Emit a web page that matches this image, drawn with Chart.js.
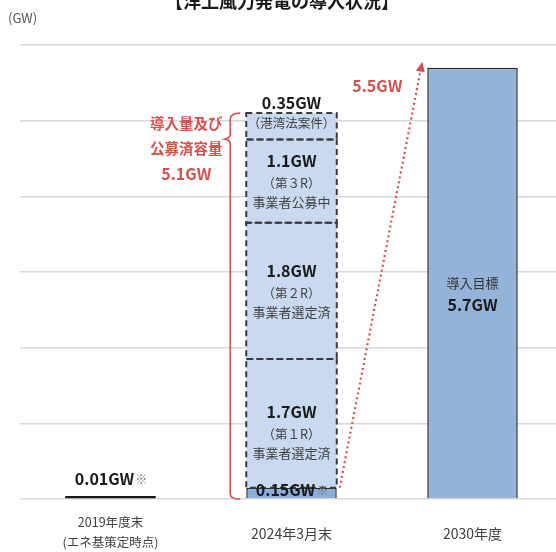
<!DOCTYPE html>
<html lang="ja">
<head>
<meta charset="utf-8">
<title>洋上風力発電の導入状況</title>
<script src="https://cdn.jsdelivr.net/npm/chart.js@4.4.1/dist/chart.umd.min.js"></script>
<style>
  html, body { margin: 0; padding: 0; background: #fff; overflow: hidden; }
  #wind { display: block; }
</style>
</head>
<body>
<canvas id="wind" width="563" height="552"></canvas>
<script>
// 年度区分
const periods = ['2019年度末', '2024年3月末', '2030年度'];
const periodNotes = ['(エネ基策定時点)', '', ''];

// 導入済み容量 (GW)
const installed = [0.01, 0.15, null];
// 公募ラウンド別の容量 (GW)
const round1 = [null, 1.7, null];
const round2 = [null, 1.8, null];
const round3 = [null, 1.1, null];
const portLaw = [null, 0.35, null];
// 2030年度の導入目標 (GW)
const target = [null, null, 5.7];

const roundTags = ['（第１R）', '（第２R）', '（第３R）', '（港湾法案件）'];
const roundStatus = ['事業者選定済', '事業者選定済', '事業者公募中', ''];

const yTicks = [0, 1, 2, 3, 4, 5, 6];
const gapToTarget = 5.5;

const FONT = "'Noto Sans CJK JP', 'Noto Sans', sans-serif";
const RED = '#d4524e';
const INK = '#1a1a1a';
const GREY = '#404040';

function put(ctx, str, x, y, size, color, weight = 'normal', align = 'center') {
    ctx.font = `${weight} ${size}px ${FONT}`;
    ctx.fillStyle = color;
    ctx.textAlign = align;
    ctx.textBaseline = 'middle';
    ctx.fillText(str, x, y);
}

// 「0.15GW※」のように太字の値と※印を並べて描く
function putValueMark(ctx, value, x, y) {
    const main = `${value}GW`;
    ctx.font = `bold 16px ${FONT}`;
    const w1 = ctx.measureText(main).width;
    ctx.font = `normal 12px ${FONT}`;
    const w2 = ctx.measureText('※').width;
    const left = x - (w1 + w2) / 2;
    put(ctx, main, left, y, 16, INK, 'bold', 'left');
    put(ctx, '※', left + w1 + 1, y, 12, '#777', 'normal', 'left');
}

// 公募ラウンド分の破線枠
const dashedBoxes = {
    id: 'dashedBoxes',
    afterDatasetsDraw(chart) {
        const ctx = chart.ctx;
        ctx.save();
        ctx.strokeStyle = '#3a3a3a';
        ctx.lineWidth = 2;
        ctx.setLineDash([6, 4]);
        [1, 2, 3, 4].forEach(di => {
            const bar = chart.getDatasetMeta(di).data[1];
            const l = bar.x - bar.width / 2, r = bar.x + bar.width / 2;
            ctx.strokeRect(l, bar.y, r - l, bar.base - bar.y);
        });
        ctx.restore();
    }
};

// 値ラベル・注記・矢印など
const annotations = {
    id: 'annotations',
    afterDraw(chart) {
        const ctx = chart.ctx;
        const x = chart.scales.x, y = chart.scales.y;
        ctx.save();

        put(ctx, '【洋上風力発電の導入状況】', 282, 1, 18, INK, 'bold');
        put(ctx, '(GW)', 8, 18, 13, '#555', 'normal', 'left');

        // 横軸ラベル
        periods.forEach((p, i) => {
            const cx = x.getPixelForValue(i);
            if (periodNotes[i]) {
                put(ctx, p, cx, 522, 12.5, GREY);
                put(ctx, periodNotes[i], cx, 542, 12.5, GREY);
            } else {
                put(ctx, p, cx, 534, 14, GREY);
            }
        });

        // 2019年度末
        const b0 = chart.getDatasetMeta(0).data[0];
        putValueMark(ctx, installed[0], b0.x, b0.y - 17);

        // 2024年3月末の内訳
        const base = chart.getDatasetMeta(0).data[1];
        putValueMark(ctx, installed[1], base.x, (base.y + base.base) / 2 - 3);

        const rounds = [round1, round2, round3];
        const shift = [9, 0, 0];
        rounds.forEach((arr, i) => {
            const bar = chart.getDatasetMeta(i + 1).data[1];
            const cy = (bar.y + bar.base) / 2 + shift[i];
            put(ctx, `${arr[1]}GW`, bar.x, cy - 20, 16, INK, 'bold');
            put(ctx, roundTags[i], bar.x, cy + 2, 12.5, GREY);
            put(ctx, roundStatus[i], bar.x, cy + 21, 13, GREY);
        });

        const port = chart.getDatasetMeta(4).data[1];
        put(ctx, `${portLaw[1]}GW`, port.x, port.y - 10, 16, INK, 'bold');
        put(ctx, roundTags[3], port.x, (port.y + port.base) / 2 - 3, 12.5, GREY);

        // 2030年度 導入目標
        const goal = chart.getDatasetMeta(5).data[2];
        const gy = (goal.y + goal.base) / 2;
        put(ctx, '導入目標', goal.x, gy, 13, '#333');
        put(ctx, `${target[2]}GW`, goal.x, gy + 22, 16, INK, 'bold');

        // 導入量及び公募済容量の括弧
        const total = [installed, round1, round2, round3, portLaw]
            .reduce((s, arr) => s + arr[1], 0);
        const bx = base.x - base.width / 2 - 16;
        const top = y.getPixelForValue(total);
        const bottom = y.getPixelForValue(0);
        ctx.strokeStyle = RED;
        ctx.lineWidth = 1.6;
        ctx.setLineDash([]);
        ctx.beginPath();
        ctx.moveTo(bx + 10, top);
        ctx.quadraticCurveTo(bx, top, bx, top + 6);
        ctx.lineTo(bx, top + 21);
        ctx.quadraticCurveTo(bx, top + 25, bx - 5, top + 26);
        ctx.quadraticCurveTo(bx, top + 27, bx, top + 31);
        ctx.lineTo(bx, bottom - 5);
        ctx.quadraticCurveTo(bx, bottom, bx + 10, bottom);
        ctx.stroke();

        put(ctx, '導入量及び', bx - 44, top + 10, 14.5, RED, 'bold');
        put(ctx, '公募済容量', bx - 44, top + 35, 14.5, RED, 'bold');
        put(ctx, `${total.toFixed(1)}GW`, bx - 44, top + 61, 16, RED, 'bold');

        // 目標までの点線矢印
        const x0 = base.x + base.width / 2 + 3, y0 = y.getPixelForValue(installed[1]);
        const x1 = goal.x - goal.width / 2 - 5, y1 = y.getPixelForValue(target[2]) - 6;
        const ang = Math.atan2(y1 - y0, x1 - x0);
        const hx = x1 - Math.cos(ang) * 10, hy = y1 - Math.sin(ang) * 10;
        ctx.setLineDash([2, 3]);
        ctx.lineWidth = 2.2;
        ctx.beginPath();
        ctx.moveTo(x0, y0);
        ctx.lineTo(hx, hy);
        ctx.stroke();
        ctx.setLineDash([]);
        ctx.fillStyle = RED;
        ctx.beginPath();
        ctx.moveTo(x1, y1);
        ctx.lineTo(hx + Math.sin(ang) * 4.5, hy - Math.cos(ang) * 4.5);
        ctx.lineTo(hx - Math.sin(ang) * 4.5, hy + Math.cos(ang) * 4.5);
        ctx.closePath();
        ctx.fill();
        put(ctx, `${gapToTarget}GW`, x1 - 45, y1 + 24, 16, RED, 'bold');

        ctx.restore();
    }
};

const lightBlue = '#c9daf0';

new Chart(document.getElementById('wind'), {
    type: 'bar',
    data: {
        labels: periods,
        datasets: [
            { data: installed, backgroundColor: ['#1a1a1a', '#8aaedb', null],
              borderColor: '#2a2a2a', borderWidth: [0, 1.5, 0], minBarLength: 3 },
            { data: round1, backgroundColor: lightBlue, borderWidth: 0 },
            { data: round2, backgroundColor: lightBlue, borderWidth: 0 },
            { data: round3, backgroundColor: lightBlue, borderWidth: 0 },
            { data: portLaw, backgroundColor: lightBlue, borderWidth: 0 },
            { data: target, backgroundColor: '#95b3d8', borderColor: '#262626', borderWidth: 1.5 }
        ]
    },
    options: {
        responsive: false,
        animation: false,
        layout: { padding: { left: 20, right: 0, top: 45, bottom: 45 } },
        datasets: { bar: { barPercentage: 0.5, categoryPercentage: 1 } },
        plugins: { legend: { display: false }, tooltip: { enabled: false } },
        scales: {
            x: {
                stacked: true,
                grid: { display: false },
                border: { display: false },
                ticks: { display: false }
            },
            y: {
                stacked: true,
                min: yTicks[0],
                max: yTicks[yTicks.length - 1],
                afterBuildTicks: s => { s.ticks = yTicks.map(v => ({ value: v })); },
                grid: { color: '#d9d9d9', lineWidth: 1.5, drawTicks: false },
                border: { display: false },
                ticks: { display: false }
            }
        }
    },
    plugins: [dashedBoxes, annotations]
});
</script>
</body>
</html>
